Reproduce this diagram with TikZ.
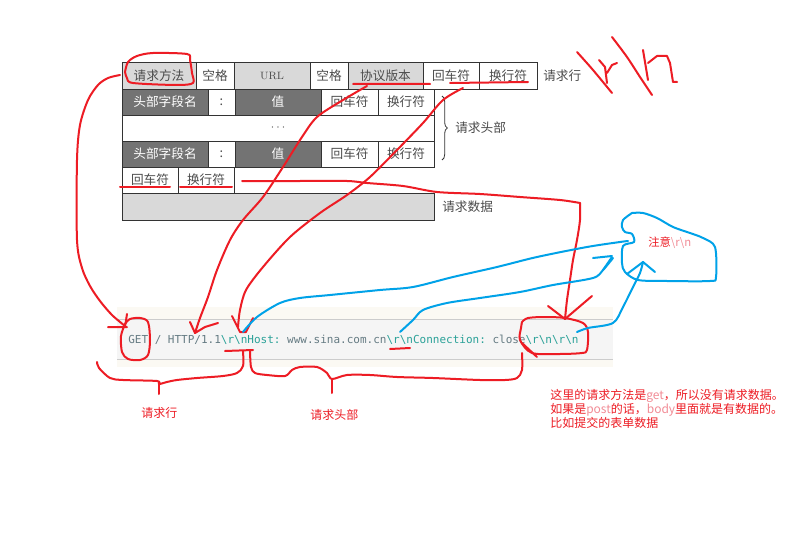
\documentclass[tikz,border=0pt]{standalone}
\usepackage{fontspec}
\usepackage{xcolor}
\usetikzlibrary{positioning, decorations.pathreplacing}
\newfontfamily\cjk{Noto Sans CJK SC}
\newfontfamily\codefont[WordSpace={1,0,0}]{DejaVu Sans Mono}
\definecolor{penred}{RGB}{237,28,36}
\definecolor{penblue}{RGB}{0,162,232}
\definecolor{notepink}{RGB}{242,140,150}
\definecolor{codegray}{RGB}{101,123,131}
\definecolor{codecyan}{RGB}{42,161,152}
\definecolor{codebeige}{RGB}{251,249,243}
\definecolor{codeband}{RGB}{245,245,245}
\newcommand{\crlf}{\textbackslash r\textbackslash n}

\tikzset{
  cell/.style={draw=black!80, line width=0.6pt, inner sep=0pt, outer sep=0pt,
    minimum height=26*0.75pt, text=black!70, font=\cjk\fontsize{9.5}{11}\selectfont},
  lite/.style={cell, fill=black!15},
  dark/.style={cell, fill=black!55, text=white},
  cw/.style={minimum width=#1*0.75pt},
  tall/.style={minimum height=27*0.75pt},
  side/.style={anchor=west, inner sep=0pt, text=black!70, font=\cjk\fontsize{9.5}{11}\selectfont},
  redpen/.style={draw=penred, line width=1.5pt, line cap=round, line join=round},
  bluepen/.style={draw=penblue, line width=1.5pt, line cap=round, line join=round},
  redtext/.style={anchor=west, inner sep=0pt, text=penred, font=\cjk\fontsize{9}{10.5}\selectfont},
}

\begin{document}
\begin{tikzpicture}[x=0.75pt, y=-0.75pt]
\useasboundingbox (0,0) rectangle (804,560);
\fill[white] (0,0) rectangle (804,560);

% request line
\node (method) [lite, tall, cw=74, anchor=north west] at (122,62) {请求方法};
\node (sp1) [cell, tall, cw=38, right=0pt of method] {空格};
\node (url) [lite, tall, cw=76, right=0pt of sp1, font=\rmfamily\fontsize{8}{9}\selectfont] {URL};
\node (sp2) [cell, tall, cw=38, right=0pt of url] {空格};
\node (version) [lite, tall, cw=75, right=0pt of sp2] {协议版本};
\node (cr1) [cell, tall, cw=56, right=0pt of version] {回车符};
\node (lf1) [cell, tall, cw=58, right=0pt of cr1] {换行符};
\node (linelbl) [side, right=6*0.75pt of lf1] {请求行};

% header lines
\node (hname1) [dark, cw=86, anchor=north west] at (method.south west) {头部字段名};
\node (colon1) [cell, cw=27, right=0pt of hname1] {:};
\node (hval1) [dark, cw=86, right=0pt of colon1] {值};
\node (cr2) [cell, cw=57, right=0pt of hval1] {回车符};
\node (lf2) [cell, cw=56, right=0pt of cr2] {换行符};
\node (dots) [cell, cw=312, anchor=north west] at (hname1.south west) {$\cdots$};
\node (hname2) [dark, cw=86, anchor=north west] at (dots.south west) {头部字段名};
\node (colon2) [cell, cw=27, right=0pt of hname2] {:};
\node (hval2) [dark, cw=86, right=0pt of colon2] {值};
\node (cr3) [cell, cw=57, right=0pt of hval2] {回车符};
\node (lf3) [cell, cw=56, right=0pt of cr3] {换行符};
\draw[decorate, decoration={brace, amplitude=4pt}, black!80, line width=0.6pt] (442,96) -- (442,160);
\node (headlbl) [side] at (455,128) {请求头部};

% blank line and body
\node (cr4) [cell, cw=56, anchor=north west] at (hname2.south west) {回车符};
\node (lf4) [cell, cw=56, right=0pt of cr4] {换行符};
\node (body) [lite, tall, cw=312, anchor=north west] at (cr4.south west) {};
\node (bodylbl) [side, right=8*0.75pt of body] {请求数据};

% raw request
\fill[codebeige] (117,307) rectangle (613,367);
\fill[codeband] (117,319) rectangle (613,359);
\draw[black!20] (117,319) -- (613,319) (117,359) -- (613,359);
\node (req) [anchor=base west, inner sep=0pt, text=codegray,
  font=\codefont\fontsize{8.25}{10}\selectfont\frenchspacing] at (128,343)
  {GET / HTTP/1.1\textcolor{codecyan}{\crlf Host:} www.sina.com.cn\textcolor{codecyan}{\crlf Connection:} close\textcolor{codecyan}{\crlf\crlf}};

% red notes
\node (linenote) [redtext] at (141,413) {请求行};
\node (headnote) [redtext] at (310,415) {请求头部};
\node (getnote) [redtext, anchor=north west, align=left] at (550,389)
  {这里的请求方法是\textcolor{notepink}{get}，所以没有请求数据。\\
   如果是\textcolor{notepink}{post}的话，\textcolor{notepink}{body}里面就是有数据的。\\
   比如提交的表单数据};
\node (note) [redtext, font=\cjk\fontsize{8.5}{10}\selectfont] at (648,243) {注意\textcolor{notepink}{\crlf}};

% red pen
\draw[redpen] plot[smooth] coordinates {(125,72) (128,62) (137,56) (153,53) (187,54) (190,60) (192,73) (193,83) (177,85) (133,83) (127,78) (125,72)};
\draw[redpen] plot[smooth] coordinates {(120,75) (108,78) (98,85) (88,100) (80,125) (77,160) (77,240) (82,268) (90,286) (100,301) (112,315) (125,326)};
\draw[redpen] (108,327) -- (127,327) (127,314) -- (125,327);
\draw[redpen] plot[smooth] coordinates {(125,324) (121,336) (122,352) (128,359) (140,360) (148,355) (150,340) (148,322) (140,318) (130,319) (125,324)};
\draw[redpen] (120,187) -- (170,187) (180,187) -- (232,187);
\draw[redpen] plot[smooth] coordinates {(242,181) (300,181) (347,181) (367,183) (403,186) (437,192) (480,194) (520,197) (560,200) (580,203)};
\draw[redpen] plot[smooth] coordinates {(580,203) (580,220) (577,240) (573,260) (570,280) (567,300) (565,319)};
\draw[redpen] (548,306) -- (565,319) -- (592,296);
\draw[redpen] plot[smooth] coordinates {(522,322) (528,318) (545,317) (565,318) (583,323) (588,332) (587,350) (582,353) (560,354) (532,353) (520,340) (521,328) (522,322)};
\draw[redpen] (522,343) -- (537,357);
\draw[redpen] plot[smooth] coordinates {(250,351) (251,367) (255,373) (267,375) (285,376) (292,370) (300,367) (317,367) (327,373) (332,379) (347,375) (370,375) (397,377) (433,378) (480,380) (505,380) (517,378) (522,370) (522,353)};
\draw[redpen] (332,379) -- (332,393);
\draw[redpen] plot[smooth] coordinates {(97,362) (99,368) (110,378) (123,380) (157,381) (159,384) (167,382) (177,380) (197,378) (223,376) (237,373) (243,366) (243,351)};
\draw[redpen] (159,382) -- (159,394);
\draw[redpen] (225,351) -- (253,350);
\draw[redpen] (353,84) -- (430,84) (450,83) -- (528,82);
\draw[redpen] plot[smooth] coordinates {(367,86) (343,100) (317,117) (302,137) (283,167) (263,197) (243,220) (230,240) (217,270) (208,297) (200,318) (195,333)};
\draw[redpen] (190,322) -- (195,333) -- (205,327) -- (218,323);
\draw[redpen] plot[smooth] coordinates {(463,88) (443,100) (423,123) (397,150) (370,177) (347,195) (320,213) (290,237) (263,267) (246,290) (240,310) (238,327)};
\draw[redpen] (232,316) -- (240,332) -- (246,332) -- (253,318);
\draw[redpen] (390,349) -- (410,348);
% handwritten \r\n
\draw[redpen] plot[smooth] coordinates {(577,52) (593,70) (612,93)};
\draw[redpen] (599,60) -- (605,67) -- (607,83) (607,73) -- (612,65) -- (617,63);
\draw[redpen] plot[smooth] coordinates {(612,37) (627,57) (640,77) (652,95)};
\draw[redpen] (643,50) -- (648,80) (648,63) -- (657,56) -- (667,56) -- (670,63) -- (673,82) -- (677,82);

% blue pen
\draw[bluepen] plot[smooth] coordinates {(243,332) (257,317) (280,303) (300,298) (330,295) (380,290) (413,287) (453,277) (497,267) (537,257) (587,247) (620,242) (628,241)};
\draw[bluepen] plot[smooth] coordinates {(400,332) (413,320) (423,310) (447,303) (480,298) (520,292) (553,285) (593,278) (603,270) (613,258)};
\draw[bluepen] (593,258) -- (612,256) (603,270) -- (612,257);
\draw[bluepen] plot[smooth] coordinates {(577,332) (588,328) (613,323) (623,307) (633,287) (640,273) (643,262)};
\draw[bluepen] (627,274) -- (643,262) -- (655,272);
\draw[bluepen] plot[smooth] coordinates {(632,213) (623,220) (622,227) (625,232) (632,234) (634,242) (623,246) (622,263) (625,272) (638,280) (667,281) (710,281) (716,277) (715,247) (703,238) (690,233) (673,227) (657,218) (643,213) (632,213)};

\end{tikzpicture}
\end{document}
